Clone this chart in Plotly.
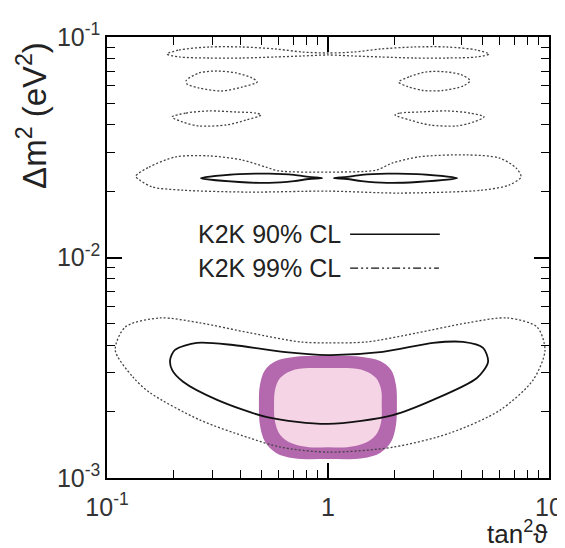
import plotly.graph_objects as go

# ---------------- data ----------------
# lower 99% CL contour (dotted)
cl99_low_x = [0.109, 0.121, 0.174, 0.264, 0.444, 0.75, 1.0, 1.50, 2.53, 4.26, 6.46, 8.83, 9.59,
              8.47, 6.0, 3.57, 1.97, 1.0, 0.61, 0.44, 0.264, 0.157, 0.131, 0.109]
cl99_low_y = [3.8e-3, 4.84e-3, 5.32e-3, 5.05e-3, 4.55e-3, 4.14e-3, 4.1e-3, 4.14e-3, 4.55e-3, 5.05e-3, 5.32e-3, 4.84e-3, 3.8e-3,
              2.78e-3, 2.03e-3, 1.6e-3, 1.38e-3, 1.31e-3, 1.38e-3, 1.52e-3, 1.83e-3, 2.43e-3, 2.87e-3, 3.8e-3]

# lower 90% CL contour (solid)
cl90_low_x = [0.193, 0.203, 0.255, 0.372, 0.626, 1.0, 1.77, 2.99, 4.08, 5.03, 5.30,
              4.72, 2.99, 1.97, 1.0, 0.53, 0.315, 0.221, 0.197, 0.193]
cl90_low_y = [3.43e-3, 3.81e-3, 4.10e-3, 4.01e-3, 3.73e-3, 3.61e-3, 3.73e-3, 4.10e-3, 4.14e-3, 3.89e-3, 3.36e-3,
              2.84e-3, 2.26e-3, 1.93e-3, 1.76e-3, 1.89e-3, 2.26e-3, 2.73e-3, 3.09e-3, 3.43e-3]

# upper 99% CL band (dotted)
cl99_up_x = [0.135, 0.155, 0.205, 0.289, 0.408, 0.524, 0.600, 1.0, 1.65, 1.95, 2.58, 4.21, 5.94, 7.09, 7.47,
             6.59, 4.98, 2.10, 1.0, 0.439, 0.219, 0.160, 0.140, 0.135]
cl99_up_y = [2.34e-2, 2.57e-2, 2.86e-2, 2.89e-2, 2.77e-2, 2.57e-2, 2.47e-2, 2.44e-2, 2.49e-2, 2.68e-2, 2.86e-2, 2.92e-2, 2.83e-2, 2.55e-2, 2.32e-2,
             2.13e-2, 2.02e-2, 1.96e-2, 2.00e-2, 1.98e-2, 2.02e-2, 2.09e-2, 2.25e-2, 2.34e-2]

# upper 90% CL lenses (solid)
cl90_lens_left_x = [0.266, 0.396, 0.541, 0.702, 0.82, 0.94, 0.82, 0.702, 0.541, 0.396, 0.266]
cl90_lens_left_y = [2.29e-2, 2.39e-2, 2.40e-2, 2.37e-2, 2.32e-2, 2.29e-2, 2.27e-2, 2.22e-2, 2.18e-2, 2.20e-2, 2.29e-2]
cl90_lens_right_x = [1.064, 1.22, 1.42, 1.85, 2.53, 3.84, 2.53, 1.85, 1.42, 1.22, 1.064]
cl90_lens_right_y = [2.29e-2, 2.32e-2, 2.37e-2, 2.40e-2, 2.39e-2, 2.29e-2, 2.20e-2, 2.18e-2, 2.22e-2, 2.27e-2, 2.29e-2]

# top-most 99% CL band (dotted)
cl99_top_x = [0.187, 0.212, 0.289, 0.408, 0.582, 0.763, 1.0, 1.31, 1.72, 2.45, 3.46, 4.72, 5.35,
              4.72, 3.46, 2.45, 1.72, 1.31, 1.0, 0.763, 0.582, 0.408, 0.289, 0.212, 0.187]
cl99_top_y = [8.37e-2, 8.73e-2, 9.01e-2, 9.01e-2, 8.82e-2, 8.55e-2, 8.46e-2, 8.55e-2, 8.82e-2, 9.01e-2, 9.01e-2, 8.73e-2, 8.37e-2,
              8.12e-2, 8.03e-2, 8.03e-2, 8.12e-2, 8.20e-2, 8.29e-2, 8.20e-2, 8.12e-2, 8.03e-2, 8.03e-2, 8.12e-2, 8.37e-2]

# 99% CL islands (dotted)
isl2_left_x = [0.228, 0.261, 0.311, 0.384, 0.453, 0.478, 0.408, 0.331, 0.261, 0.230, 0.228]
isl2_left_y = [6.34e-2, 6.87e-2, 7.01e-2, 6.87e-2, 6.52e-2, 6.25e-2, 5.93e-2, 5.69e-2, 5.87e-2, 6.12e-2, 6.34e-2]
isl2_right_x = [2.09, 2.35, 2.8, 3.4, 4.0, 4.39, 4.1, 3.3, 2.7, 2.3, 2.09]
isl2_right_y = [6.25e-2, 6.62e-2, 6.95e-2, 6.95e-2, 6.75e-2, 6.34e-2, 6.0e-2, 5.72e-2, 5.72e-2, 5.95e-2, 6.25e-2]
isl3_left_x = [0.197, 0.228, 0.289, 0.384, 0.472, 0.498, 0.426, 0.346, 0.261, 0.219, 0.197]
isl3_left_y = [4.34e-2, 4.52e-2, 4.62e-2, 4.57e-2, 4.52e-2, 4.43e-2, 4.20e-2, 3.99e-2, 3.95e-2, 4.12e-2, 4.34e-2]
isl3_right_x = [2.01, 2.12, 2.6, 3.46, 4.39, 5.08, 4.57, 3.83, 2.89, 2.35, 2.01]
isl3_right_y = [4.43e-2, 4.52e-2, 4.57e-2, 4.62e-2, 4.52e-2, 4.34e-2, 4.12e-2, 3.95e-2, 3.99e-2, 4.20e-2, 4.43e-2]

# purple band (outer) and pink core (inner)
band_outer_x = [0.487, 0.492, 0.519, 0.582, 0.70, 1.0, 1.43, 1.72, 1.93, 2.03, 2.05,
                2.03, 1.93, 1.72, 1.43, 1.0, 0.70, 0.582, 0.519, 0.492, 0.487]
band_outer_y = [2.14e-3, 2.64e-3, 3.09e-3, 3.39e-3, 3.54e-3, 3.58e-3, 3.54e-3, 3.39e-3, 3.09e-3, 2.64e-3, 2.14e-3,
                1.74e-3, 1.46e-3, 1.30e-3, 1.23e-3, 1.22e-3, 1.23e-3, 1.30e-3, 1.46e-3, 1.74e-3, 2.14e-3]
band_inner_x = [0.570, 0.576, 0.607, 0.680, 0.82, 1.0, 1.22, 1.47, 1.65, 1.74, 1.75,
                1.74, 1.65, 1.47, 1.22, 1.0, 0.82, 0.680, 0.607, 0.576, 0.570]
band_inner_y = [2.14e-3, 2.51e-3, 2.84e-3, 3.06e-3, 3.15e-3, 3.15e-3, 3.15e-3, 3.06e-3, 2.84e-3, 2.51e-3, 2.14e-3,
                1.80e-3, 1.57e-3, 1.44e-3, 1.38e-3, 1.38e-3, 1.38e-3, 1.44e-3, 1.57e-3, 1.80e-3, 2.14e-3]

x_tick_vals = [0.1, 1, 10]
x_tick_text = ["10<sup>-1</sup>", "1", "10"]
y_tick_vals = [1e-3, 1e-2, 1e-1]
y_tick_text = ["10<sup>-3</sup>", "10<sup>-2</sup>", "10<sup>-1</sup>"]
x_minor_vals = [0.2, 0.3, 0.4, 0.5, 0.6, 0.7, 0.8, 0.9, 2, 3, 4, 5, 6, 7, 8, 9]
y_minor_vals = [2e-3, 3e-3, 4e-3, 5e-3, 6e-3, 7e-3, 8e-3, 9e-3, 2e-2, 3e-2, 4e-2, 5e-2, 6e-2, 7e-2, 8e-2, 9e-2]
legend_labels = ["K2K 90% CL", "K2K 99% CL"]

# ---------------- figure ----------------
FONT = "Liberation Sans, Arial, Helvetica, sans-serif"
fig = go.Figure()

fig.add_trace(go.Scatter(x=band_outer_x, y=band_outer_y, mode="lines", fill="toself",
                         fillcolor="#b468ad", line=dict(width=0, shape="spline", smoothing=1.0),
                         hoverinfo="skip", showlegend=False))
fig.add_trace(go.Scatter(x=band_inner_x, y=band_inner_y, mode="lines", fill="toself",
                         fillcolor="#f5d4e5", line=dict(width=0, shape="spline", smoothing=1.0),
                         hoverinfo="skip", showlegend=False))

dotted = dict(color="#444444", width=1.3, dash="2px,2px", shape="spline", smoothing=0.8)
solid = dict(color="#111111", width=1.8, shape="spline", smoothing=0.8)

for xs, ys in [(cl99_low_x, cl99_low_y), (cl99_up_x, cl99_up_y), (cl99_top_x, cl99_top_y),
               (isl2_left_x, isl2_left_y), (isl2_right_x, isl2_right_y),
               (isl3_left_x, isl3_left_y), (isl3_right_x, isl3_right_y)]:
    fig.add_trace(go.Scatter(x=xs, y=ys, mode="lines", line=dotted, hoverinfo="skip", showlegend=False))

for xs, ys in [(cl90_low_x, cl90_low_y), (cl90_lens_left_x, cl90_lens_left_y),
               (cl90_lens_right_x, cl90_lens_right_y)]:
    fig.add_trace(go.Scatter(x=xs, y=ys, mode="lines", line=solid, hoverinfo="skip", showlegend=False))

axis_common = dict(type="log", showline=True, linecolor="black", linewidth=1.5, mirror="allticks",
                   ticks="inside", ticklen=15, tickwidth=1.5, tickcolor="black", automargin=False,
                   showgrid=False, zeroline=False, tickmode="array",
                   tickfont=dict(family=FONT, size=25, color="#333333"))

fig.update_xaxes(range=[-1, 1], tickvals=x_tick_vals, ticktext=x_tick_text, ticklabelstandoff=6,
                 minor=dict(ticks="inside", ticklen=8, tickwidth=1.3, tickcolor="black",
                            tickmode="array", tickvals=x_minor_vals, showgrid=False),
                 **axis_common)
fig.update_yaxes(range=[-3, -1], tickvals=y_tick_vals, ticktext=y_tick_text,
                 minor=dict(ticks="inside", ticklen=8, tickwidth=1.3, tickcolor="black",
                            tickmode="array", tickvals=y_minor_vals, showgrid=False),
                 **axis_common)

# legend (text then line sample)
fig.add_annotation(xref="paper", yref="paper", x=0.534, y=0.553, xanchor="right", yanchor="middle",
                   text=legend_labels[0], showarrow=False, font=dict(family=FONT, size=25, color="#222222"))
fig.add_annotation(xref="paper", yref="paper", x=0.534, y=0.476, xanchor="right", yanchor="middle",
                   text=legend_labels[1], showarrow=False, font=dict(family=FONT, size=25, color="#222222"))
fig.add_shape(type="line", xref="paper", yref="paper", x0=0.550, x1=0.753, y0=0.553, y1=0.553,
              line=dict(color="#111111", width=1.5))
fig.add_shape(type="line", xref="paper", yref="paper", x0=0.550, x1=0.751, y0=0.476, y1=0.476,
              line=dict(color="#111111", width=1.3, dash="8px,3px,2px,3px,2px,3px"))

# axis titles
fig.add_annotation(xref="paper", yref="paper", x=-0.17, y=0.823, xanchor="center", yanchor="middle",
                   text="Δm<sup>2</sup> (eV<sup>2</sup>)", textangle=-90, showarrow=False,
                   font=dict(family=FONT, size=33, color="#222222"))
fig.add_annotation(xref="paper", yref="paper", x=1.0, y=-0.163, xanchor="right", yanchor="bottom",
                   text="tan<sup>2</sup>ϑ", showarrow=False, borderpad=0,
                   font=dict(family=FONT, size=26, color="#222222"))

# page body adds an 8 px offset, so margins are shifted to land the plot frame at 107..549 x 37..478
fig.update_layout(width=565, height=548, margin=dict(l=99, r=24, t=29, b=78),
                  paper_bgcolor="white", plot_bgcolor="white", showlegend=False)

fig.write_html("out.html")
